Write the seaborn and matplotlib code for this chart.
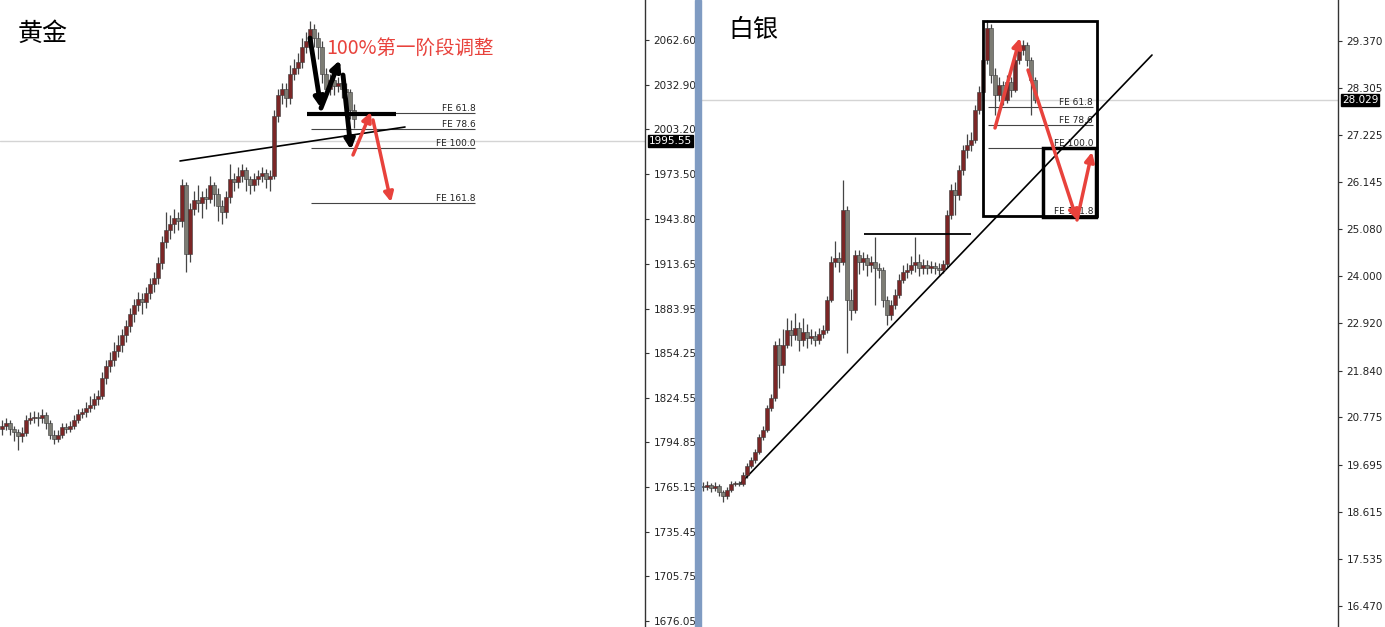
import numpy as np
import matplotlib
matplotlib.use("Agg")
import matplotlib.pyplot as plt
from matplotlib.patches import Rectangle
from matplotlib import transforms
import seaborn as sns

# ---- gold (黄金) candles: open of each bar = previous close ----
gold_open0 = 1804
gold_close = [1806, 1808, 1804, 1802, 1799, 1801, 1810, 1811, 1812, 1811,
              1813, 1808, 1800, 1797, 1800, 1805, 1804, 1806, 1810, 1814,
              1815, 1818, 1820, 1824, 1826, 1838, 1846, 1850, 1856, 1860,
              1866, 1872, 1880, 1886, 1890, 1888, 1894, 1900, 1904, 1914,
              1928, 1936, 1940, 1944, 1942, 1966, 1920, 1950, 1956, 1954,
              1958, 1957, 1966, 1960, 1952, 1948, 1958, 1970, 1968, 1972,
              1976, 1970, 1966, 1970, 1972, 1974, 1970, 1972, 2012, 2026,
              2030, 2024, 2040, 2044, 2048, 2058, 2062, 2070, 2064, 2058,
              2040, 2030, 2036, 2032, 2034, 2030, 2028, 2016, 2010]
gold_high = [1810, 1811, 1810, 1806, 1804, 1805, 1813, 1815, 1816, 1815,
             1817, 1815, 1810, 1803, 1803, 1808, 1808, 1809, 1813, 1817,
             1818, 1822, 1826, 1828, 1830, 1842, 1850, 1855, 1862, 1866,
             1870, 1876, 1884, 1890, 1895, 1894, 1898, 1904, 1908, 1918,
             1932, 1948, 1946, 1950, 1948, 1970, 1968, 1954, 1962, 1966,
             1962, 1964, 1972, 1968, 1964, 1956, 1962, 1980, 1974, 1978,
             1980, 1978, 1972, 1974, 1976, 1978, 1977, 1976, 2016, 2030,
             2034, 2034, 2046, 2050, 2054, 2064, 2068, 2075, 2073, 2068,
             2062, 2044, 2040, 2038, 2038, 2037, 2034, 2030, 2020]
gold_low = [1800, 1803, 1800, 1796, 1790, 1795, 1799, 1807, 1808, 1806,
            1808, 1804, 1797, 1794, 1795, 1798, 1801, 1802, 1804, 1808,
            1811, 1812, 1815, 1817, 1820, 1824, 1834, 1842, 1846, 1852,
            1855, 1862, 1868, 1875, 1882, 1880, 1884, 1890, 1895, 1900,
            1910, 1924, 1930, 1934, 1936, 1938, 1908, 1915, 1946, 1948,
            1944, 1950, 1954, 1952, 1942, 1940, 1944, 1954, 1962, 1964,
            1968, 1962, 1960, 1962, 1966, 1968, 1964, 1962, 1970, 2008,
            2020, 2018, 2020, 2036, 2040, 2044, 2054, 2058, 2058, 2050,
            2034, 2024, 2026, 2026, 2028, 2024, 2020, 2010, 2004]
gold_ticks = [2062.60, 2032.90, 2003.20, 1973.50, 1943.80, 1913.65, 1883.95,
              1854.25, 1824.55, 1794.85, 1765.15, 1735.45, 1705.75, 1676.05]
gold_last = 1995.55
gold_fe = [("FE 61.8", 2013.7), ("FE 78.6", 2003.4), ("FE 100.0", 1990.7), ("FE 161.8", 1954.1)]

# ---- silver (白银) candles ----
silver_open0 = 19.22
silver_close = [19.19, 19.23, 19.16, 19.21, 19.07, 18.98, 19.12, 19.26, 19.28, 19.26,
                19.46, 19.67, 19.80, 19.99, 20.33, 20.49, 20.99, 21.22, 22.43, 21.97,
                22.43, 22.77, 22.66, 22.82, 22.54, 22.72, 22.59, 22.63, 22.54, 22.68,
                22.77, 23.46, 24.32, 24.41, 24.32, 25.51, 23.46, 23.23, 24.48, 24.32,
                24.41, 24.26, 24.32, 24.19, 24.14, 23.46, 23.11, 23.34, 23.57, 23.91,
                24.10, 24.14, 24.26, 24.32, 24.19, 24.26, 24.19, 24.23, 24.19, 24.14,
                24.28, 25.40, 25.97, 25.85, 26.42, 26.88, 26.99, 27.11, 27.79, 28.21,
                28.94, 29.67, 28.59, 28.14, 28.36, 28.02, 28.43, 28.25, 28.94, 29.16,
                29.28, 28.94, 28.48, 28.03]
silver_high = [19.30, 19.32, 19.28, 19.30, 19.25, 19.12, 19.18, 19.32, 19.33, 19.32,
               19.52, 19.74, 19.88, 20.06, 20.40, 20.58, 21.06, 21.32, 22.52, 22.60,
               22.80, 23.05, 23.00, 23.15, 22.95, 23.05, 22.90, 22.80, 22.75, 22.82,
               22.88, 23.55, 24.45, 24.80, 24.55, 26.20, 25.60, 23.70, 24.60, 24.60,
               24.55, 24.50, 24.45, 24.89, 24.30, 24.20, 23.55, 23.45, 23.70, 24.05,
               24.25, 24.30, 24.45, 24.89, 24.50, 24.40, 24.38, 24.35, 24.32, 24.30,
               24.38, 25.50, 26.10, 26.15, 26.55, 27.00, 27.25, 27.30, 27.90, 28.35,
               29.05, 29.85, 29.75, 28.75, 28.55, 28.45, 28.60, 28.55, 29.05, 29.30,
               29.39, 29.35, 29.00, 28.55]
silver_low = [19.10, 19.12, 19.08, 19.10, 18.98, 18.85, 18.92, 19.08, 19.22, 19.20,
              19.22, 19.40, 19.62, 19.74, 19.94, 20.26, 20.44, 20.92, 21.15, 21.44,
              21.80, 22.35, 22.40, 22.55, 22.30, 22.40, 22.35, 22.45, 22.40, 22.45,
              22.60, 22.70, 23.40, 24.20, 24.10, 24.25, 22.25, 23.00, 23.15, 24.05,
              24.15, 24.00, 24.10, 23.34, 23.95, 23.30, 22.89, 23.00, 23.25, 23.50,
              23.85, 23.95, 24.05, 24.10, 24.00, 24.05, 24.05, 24.08, 24.05, 24.02,
              24.08, 24.22, 25.30, 25.40, 25.75, 26.30, 26.70, 26.85, 27.05, 27.70,
              28.15, 28.85, 28.40, 27.68, 28.00, 27.90, 27.95, 28.10, 28.20, 28.85,
              29.05, 28.80, 27.68, 27.95]
silver_ticks = [29.370, 28.305, 27.225, 26.145, 25.080, 24.000, 22.920, 21.840,
                20.775, 19.695, 18.615, 17.535, 16.470]
silver_last = 28.029
silver_fe = [("FE 61.8", 27.863), ("FE 78.6", 27.452), ("FE 100.0", 26.927), ("FE 161.8", 25.374)]

UP = "#7b2626"
DOWN = "#7c7c74"
RED = "#e8423c"

sns.set_theme(style="white")
plt.rcParams["font.family"] = ["DejaVu Sans", "Noto Sans CJK SC"]
CJK = ["Noto Sans CJK SC", "DejaVu Sans"]

fig = plt.figure(figsize=(13.85, 6.27), dpi=100)
fig.patch.set_facecolor("white")
ax_g = fig.add_axes([0, 0, 645 / 1385, 1])
ax_s = fig.add_axes([701 / 1385, 0, 637 / 1385, 1])
fig.add_artist(Rectangle((695 / 1385, 0), 6 / 1385, 1, transform=fig.transFigure,
                         color="#7f9bc2", zorder=5))


def candles(ax, open0, close, high, low):
    close = np.array(close, dtype=float)
    opn = np.concatenate([[open0], close[:-1]])
    idx = np.arange(len(close))
    up = close >= opn
    cols = np.where(up, UP, DOWN)
    ax.vlines(idx, low, high, color="#454545", lw=0.9, zorder=2)
    ax.bar(idx, close - opn, bottom=opn, width=0.8, color=cols,
           edgecolor="#3a3a3a", linewidth=0.4, zorder=3)


def style_axis(ax, ticks, fmt, ylim, xlim, last):
    ax.set_xlim(*xlim)
    ax.set_ylim(*ylim)
    sns.despine(ax=ax, left=True, top=True, bottom=True, right=False)
    ax.spines["right"].set_color("#333333")
    ax.spines["right"].set_linewidth(1)
    ax.set_xticks([])
    ax.yaxis.tick_right()
    ax.set_yticks(ticks)
    ax.set_yticklabels([fmt.format(t) for t in ticks])
    ax.tick_params(axis="y", direction="out", length=3, width=0.8, color="#333333",
                   labelsize=7.5, labelcolor="#222222", pad=3, right=True)
    ax.grid(False)
    ax.axhline(last, color="#d4d4d4", lw=1, zorder=1)
    trans = transforms.blended_transform_factory(ax.transAxes, ax.transData)
    ax.text(1.006, last, fmt.format(last), transform=trans, ha="left", va="center",
            fontsize=7.5, color="white", clip_on=False,
            bbox=dict(boxstyle="square,pad=0.1", fc="black", ec="black"))


def fe_levels(ax, levels, x0, x1, xlabel, color="#444444"):
    for name, val in levels:
        ax.hlines(val, x0, x1, color=color, lw=0.8, zorder=2)
        ax.text(xlabel, val, name, ha="right", va="bottom", fontsize=6.5,
                color="#222222", zorder=4)


def arrow(ax, start, end, color, lw, head=14):
    ax.annotate("", xy=end, xytext=start,
                arrowprops=dict(arrowstyle="-|>", color=color, lw=lw,
                                mutation_scale=head, shrinkA=0, shrinkB=0), zorder=6)


# ---- gold panel ----
candles(ax_g, gold_open0, gold_close, gold_high, gold_low)
style_axis(ax_g, gold_ticks, "{:.2f}", (1672.06, 2089.2), (-0.5, 160.75), gold_last)
fe_levels(ax_g, gold_fe, 77.25, 118.25, 118.5)
ax_g.hlines(2013.4, 76.25, 98.5, color="black", lw=3, zorder=4)
sns.lineplot(x=[44.5, 100.75], y=[1982.1, 2004.7], ax=ax_g, color="black", lw=1.2)
arrow(ax_g, (77, 2063.9), (79.75, 2017.3), "black", 3.5)
arrow(ax_g, (79.75, 2017.3), (84.5, 2049.3), "black", 3.5)
arrow(ax_g, (85.25, 2039.3), (87.25, 1989.4), "black", 3.5)
arrow(ax_g, (87.75, 1986.1), (92.25, 2014.7), RED, 2.5)
arrow(ax_g, (92.75, 2009.4), (97.25, 1954.8), RED, 2.5)
ax_g.text(81, 2057.0, "100%第一阶段调整", color=RED, fontsize=14, family=CJK,
          ha="left", va="center", zorder=7)
ax_g.text(18 / 645, 1 - 34 / 627, "黄金", transform=ax_g.transAxes, fontsize=18,
          family=CJK, ha="left", va="center", color="black")

# ---- silver panel ----
candles(ax_s, silver_open0, silver_close, silver_high, silver_low)
style_axis(ax_s, silver_ticks, "{:.3f}", (15.99, 30.306), (-0.5, 158.75), silver_last)
fe_levels(ax_s, silver_fe, 71.25, 97.5, 97.5)
ax_s.add_patch(Rectangle((70, 25.374), 28.5, 29.827 - 25.374, fill=False,
                         ec="black", lw=2, zorder=5))
ax_s.add_patch(Rectangle((85, 25.352), 13.25, 26.927 - 25.352, fill=False,
                         ec="black", lw=2.5, zorder=5))
sns.lineplot(x=[9.25, 112.25], y=[19.256, 29.05], ax=ax_s, color="black", lw=1.2)
ax_s.hlines(24.963, 40.25, 67, color="black", lw=1.3, zorder=4)
arrow(ax_s, (73, 27.384), (79.25, 29.438), RED, 2.5)
arrow(ax_s, (81.25, 28.708), (93.5, 25.283), RED, 2.5)
arrow(ax_s, (93.5, 25.283), (97.25, 26.836), RED, 2.5)
ax_s.text(27 / 637, 1 - 30 / 627, "白银", transform=ax_s.transAxes, fontsize=18,
          family=CJK, ha="left", va="center", color="black")

fig.savefig("out.png", dpi=100, facecolor="white")
